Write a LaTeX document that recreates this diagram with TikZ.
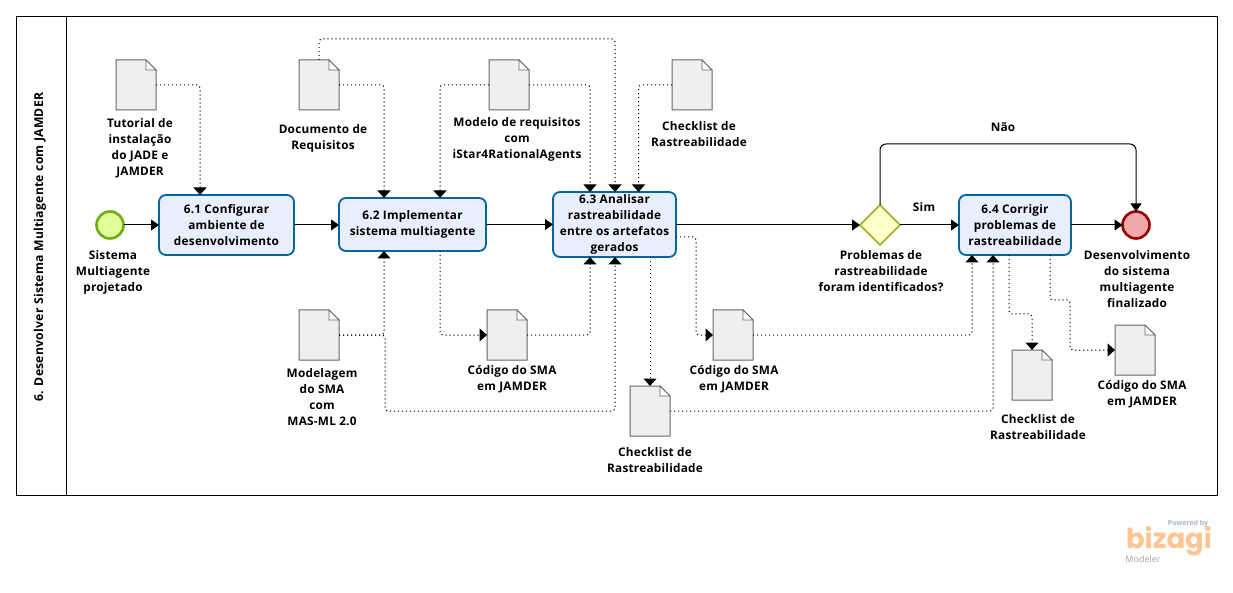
\documentclass[tikz,border=0pt]{standalone}
\usepackage{fontspec}
\setmainfont{Open Sans}[LetterSpace=2]
\newfontfamily\logofont{Poppins}
\newfontfamily\plainfont{Open Sans}
\usetikzlibrary{arrows.meta,calc,shapes.geometric}
\definecolor{taskfill}{HTML}{E9EEFD}
\definecolor{taskline}{HTML}{00669B}
\definecolor{docfill}{HTML}{EFEFEF}
\definecolor{docline}{HTML}{666666}
\tikzset{
  lbl/.style={align=center,inner sep=0pt,font=\bfseries\fontsize{11.8}{16}\selectfont,text=black},
  taskbox/.style={draw=taskline,fill=taskfill,line width=1.8pt,rounded corners=7pt,inner sep=0pt,outer sep=0pt,align=center,font=\bfseries\fontsize{11.8}{16}\selectfont},
  docbox/.style={minimum width=40pt,minimum height=50pt,inner sep=0pt,outer sep=0pt},
  flowline/.style={line width=1pt,rounded corners=3pt,-{Triangle[length=8pt,width=11pt]}},
  assoc/.style={line width=1pt,rounded corners=3pt,dash pattern=on 1.2pt off 2.8pt,-{Triangle[length=7.5pt,width=13pt]}},
}
\newcommand{\docshape}[3]{%
  \node[docbox] (#1) at (#2,#3) {};
  \draw[docline,fill=docfill,line width=1pt,line join=miter]
    (#1.north west) -- ($(#1.north east)+(-10pt,0)$) -- ($(#1.north east)+(0,-10pt)$) -- (#1.south east) -- (#1.south west) -- cycle;
  \draw[docline,fill=white,line width=.8pt]
    ($(#1.north east)+(-10pt,0)$) -- ($(#1.north east)+(-10pt,-10pt)$) -- ($(#1.north east)+(0,-10pt)$) -- cycle;
}
\begin{document}
\begin{tikzpicture}[x=1pt,y=-1pt]
\useasboundingbox (0,0) rectangle (1233,593);
\fill[white] (0,0) rectangle (1233,593);
% pool
\node[draw=black,line width=1pt,minimum width=1201pt,minimum height=479pt,inner sep=0pt,outer sep=0pt] (pool) at (617,256) {};
\node[draw=black,line width=1pt,minimum width=50pt,minimum height=479pt,inner sep=0pt,outer sep=0pt] (lane) at (41.5,256) {};
\node[lbl,rotate=90,font=\bfseries\fontsize{12.2}{16}\selectfont] (title) at (40,247) {6. Desenvolver Sistema Multiagente com JAMDER};
% documents
\docshape{d1}{136}{85}
\docshape{d2}{319}{85}
\docshape{d3}{509}{85}
\docshape{d4}{692}{85}
\docshape{d5}{319}{335}
\docshape{d6}{507}{335}
\docshape{d7}{733}{335}
\docshape{d8}{650}{411}
\docshape{d9}{1032}{375}
\docshape{d10}{1135}{350}
% events, tasks, gateway
\node[circle,draw={rgb,255:red,111;green,174;blue,20},fill={rgb,255:red,226;green,255;blue,153},line width=2.6pt,inner sep=0pt,outer sep=0pt,minimum size=27pt] (start) at (110,225) {};
\node[circle,draw={rgb,255:red,153;green,0;blue,0},fill={rgb,255:red,239;green,169;blue,171},line width=2.6pt,inner sep=0pt,outer sep=0pt,minimum size=27pt] (end) at (1136,225) {};
\node[diamond,draw={rgb,255:red,169;green,169;blue,30},fill={rgb,255:red,255;green,255;blue,204},line width=1.6pt,inner sep=0pt,outer sep=0pt,minimum width=40pt,minimum height=40pt] (gw) at (880,225) {};
\node[taskbox,minimum width=135pt,minimum height=60pt] (t1) at (226.5,225) {6.1 Configurar\\ambiente de\\desenvolvimento};
\node[taskbox,minimum width=147pt,minimum height=53pt] (t2) at (412.5,224.5) {6.2 Implementar\\sistema multiagente};
\node[taskbox,minimum width=123pt,minimum height=65pt] (t3) at (614.5,224.5) {6.3 Analisar\\rastreabilidade\\entre os artefatos\\gerados};
\node[taskbox,minimum width=112pt,minimum height=60pt] (t4) at (1015,225) {6.4 Corrigir\\problemas de\\rastreabilidade};
% sequence flows
\draw[flowline] (start) -- (t1);
\draw[flowline] (t1.east) -- (t1.east -| t2.west);
\draw[flowline] (t2.east) -- (t2.east -| t3.west);
\draw[flowline] (t3.east |- gw.west) -- (gw.west);
\draw[flowline] (gw.east) -- (t4.west);
\draw[flowline] (t4) -- (end);
\draw[flowline,rounded corners=6pt] (gw.north) -- (880,144) -- (1136,144) -- (end.north);
% associations
\draw[assoc] (d1.east) -| ([xshift=-26.5pt]t1.north);
\draw[assoc] (d2.east) -| ([xshift=-28.5pt]t2.north);
\draw[assoc] (d2.north) -- (319,39) -- (615,39) -- ([xshift=.5pt]t3.north);
\draw[assoc] (d3.west) -| ([xshift=27.5pt]t2.north);
\draw[assoc] (d3.east) -| ([xshift=-24.5pt]t3.north);
\draw[assoc] (d4.west) -| ([xshift=24pt]t3.north);
\draw[assoc] (d5.east) -| ([xshift=-28.5pt]t2.south);
\draw[assoc] ([xshift=27.5pt]t2.south) |- (d6.west);
\draw[assoc] (d6.east) -| ([xshift=-24.5pt]t3.south);
\draw[assoc] ([xshift=35.5pt]t3.south) -- (d8.north);
\draw[assoc] ([yshift=-12.5pt]t3.east) -- (696,237) -- (696,335) -- (d7.west);
\draw[assoc] (d7.east) -| ([xshift=-43pt]t4.south);
\draw[assoc] (d8.east) -| ([xshift=-22pt]t4.south);
\draw[assoc] (d5.east) -- (385,335) -- (385,411) -- (615,411) -- ([xshift=.5pt]t3.south);
\draw[assoc] ([xshift=-6pt]t4.south) -- (1009,314) -- (1032,314) -- (d9.north);
\draw[assoc] ([xshift=35pt]t4.south) -- (1050,300) -- (1070,300) -- (1070,350) -- (d10.west);
% labels
\node[lbl] (l1) at (140,148) {Tutorial de\\instalação\\do JADE e\\JAMDER};
\node[lbl] (l2) at (323,138) {Documento de\\Requisitos};
\node[lbl] (l3) at (517,139) {Modelo de requisitos\\com\\iStar4RationalAgents};
\node[lbl] (l4) at (699,134) {Checklist de\\Rastreabilidade};
\node[lbl] (l5) at (113,272.5) {Sistema\\Multiagente\\projetado};
\node[lbl] (l6) at (322,397) {Modelagem\\do SMA\\com\\MAS-ML 2.0};
\node[lbl] (l7) at (512,379) {Código do SMA\\em JAMDER};
\node[lbl] (l8) at (734,379) {Código do SMA\\em JAMDER};
\node[lbl] (l9) at (655,460) {Checklist de\\Rastreabilidade};
\node[lbl] (l10) at (881,271.5) {Problemas de\\rastreabilidade\\foram identificados?};
\node[lbl] (l11) at (924,207.5) {Sim};
\node[lbl] (l12) at (1003,127.5) {Não};
\node[lbl] (l13) at (1137,279.5) {Desenvolvimento\\do sistema\\multiagente\\finalizado};
\node[lbl] (l14) at (1142,394) {Código do SMA\\em JAMDER};
\node[lbl] (l15) at (1038,427) {Checklist de\\Rastreabilidade};
% logo
\node[inner sep=0pt,text={rgb,255:red,250;green,198;blue,146},font=\logofont\bfseries\fontsize{27.5}{29}\selectfont] (logo) at (1169,541) {bizagi};
\node[inner sep=0pt,text={rgb,255:red,172;green,180;blue,188},font=\plainfont\bfseries\fontsize{7}{8}\selectfont] (pw) at (1188,524) {Powered by};
\node[inner sep=0pt,text={rgb,255:red,160;green,168;blue,176},font=\plainfont\fontsize{9}{9}\selectfont] (md) at (1143,559) {Modeler};
\end{tikzpicture}
\end{document}
